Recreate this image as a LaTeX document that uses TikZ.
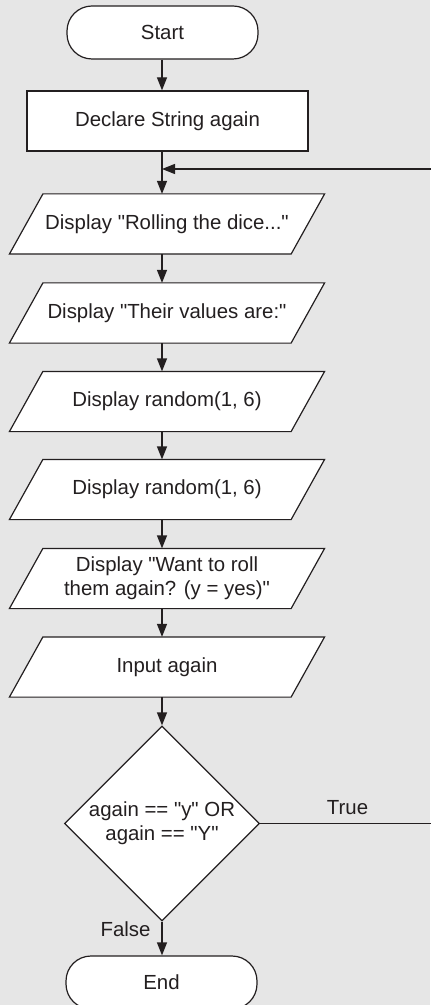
\documentclass[tikz,border=0pt]{standalone}
\usepackage{fontspec}
\setmainfont{Liberation Sans}[Ligatures=TeXOff]
\usetikzlibrary{shapes.geometric,arrows.meta}
\definecolor{bgc}{HTML}{E6E6E6}
\definecolor{ink}{HTML}{231F20}
\pgfdeclarelayer{background}
\pgfsetlayers{background,main}
\tikzset{
  base/.style={draw=ink, fill=white, line width=0.6pt, text=ink, inner sep=0pt, align=center,
    font=\fontsize{10.2}{12.2}\selectfont},
  term/.style={base, rectangle, rounded corners=12.5pt, minimum width=95.5pt, minimum height=26.5pt},
  procbox/.style={base, rectangle, minimum width=140.5pt, minimum height=30pt},
  ioline/.style={draw=ink, fill=white, line width=0.6pt, line join=miter},
  iobox/.style={base, draw=none, fill=none, rectangle, minimum width=157pt, minimum height=29.5pt,
    append after command={\pgfextra{\begin{pgfonlayer}{background}
      \filldraw[ioline] (\tikzlastnode.south west) -- ([xshift=-16.75pt]\tikzlastnode.south east)
        -- (\tikzlastnode.north east) -- ([xshift=16.75pt]\tikzlastnode.north west) -- cycle;
      \end{pgfonlayer}}}},
  decbox/.style={base, diamond, minimum width=97.5pt, minimum height=97.5pt},
  arr/.style={draw=ink, line width=0.6pt, -{Triangle[length=6.5pt,width=5pt]}},
  lbl/.style={text=ink, inner sep=0pt, font=\fontsize{10.2}{12.2}\selectfont}
}
\begin{document}
\begin{tikzpicture}[x=0.5pt,y=-0.5pt]
\begin{pgfonlayer}{background}
\fill[bgc] (0,0) rectangle (430,1005);
\end{pgfonlayer}
\useasboundingbox (0,0) rectangle (430,1005);
\coordinate (ax) at (162,0);
\coordinate (rt) at (433,0);
\node[term] (start) at (162.5,32.5) {Start};
\node[procbox] (declare) at (167.5,121) {Declare String again};
\node[iobox] (p1) at (167,224) {Display "Rolling the dice..."};
\node[iobox] (p2) at (167,313) {Display "Their values are:"};
\node[iobox] (p3) at (167,401.5) {Display random(1, 6)};
\node[iobox] (p4) at (167,489.5) {Display random(1, 6)};
\node[iobox] (p5) at (167,578.5) {Display "Want to roll\\them again? (y = yes)"};
\node[iobox] (p6) at (167,667) {Input again};
\node[decbox] (dec) at (162,823.5) {again == "y" OR\\again == "Y"};
\node[term] (end) at (161.5,982.5) {End};
\coordinate (join) at (162,169);
\node[lbl] (truelbl) at (347.5,808) {True};
\node[lbl] (falselbl) at (125.5,929) {False};
\draw[arr] (start.south -| ax) -- (declare.north -| ax);
\draw[arr] (declare.south -| ax) -- (p1.north -| ax);
\draw[arr] (p1.south -| ax) -- (p2.north -| ax);
\draw[arr] (p2.south -| ax) -- (p3.north -| ax);
\draw[arr] (p3.south -| ax) -- (p4.north -| ax);
\draw[arr] (p4.south -| ax) -- (p5.north -| ax);
\draw[arr] (p5.south -| ax) -- (p6.north -| ax);
\draw[arr] (p6.south -| ax) -- (dec.north);
\draw[arr] (dec.south) -- (end.north -| dec.south);
\draw[arr] (dec.east) -- (dec.east -| rt) |- (join);
\end{tikzpicture}
\end{document}
